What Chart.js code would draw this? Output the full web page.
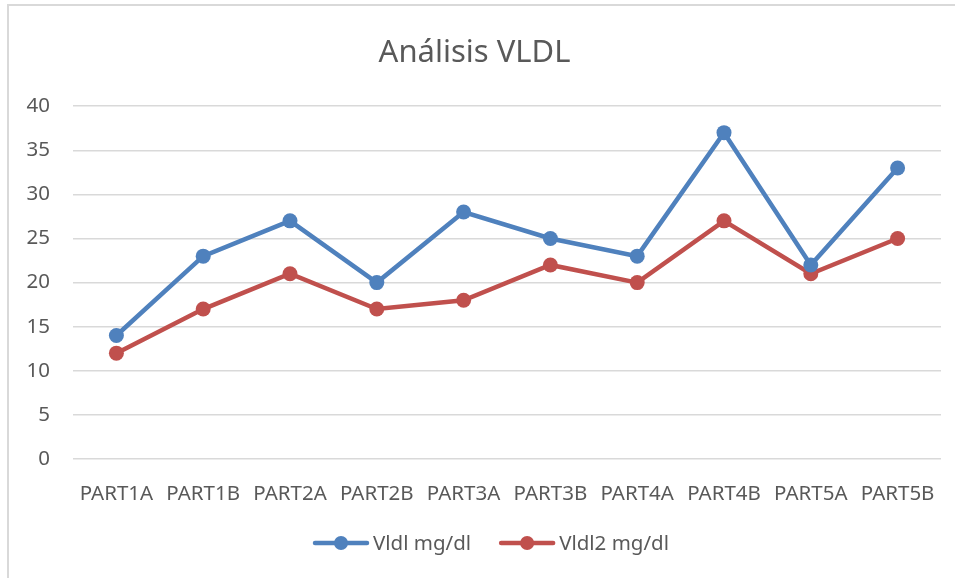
<!DOCTYPE html>
<html>
<head>
<meta charset="utf-8">
<script src="https://cdn.jsdelivr.net/npm/chart.js@4.4.1/dist/chart.umd.min.js"></script>
<style>
  html, body { margin:0; padding:0; background:#fff; }
  #wrap { position:relative; width:955px; height:578px; }
  #frame {
    position:absolute; left:7px; top:4px; right:-10px; bottom:-10px;
    border-left:2px solid #d9d9d9; border-top:2px solid #d9d9d9;
  }
  canvas { position:absolute; left:0; top:0; }
</style>
</head>
<body>
<div id="wrap">
  <div id="frame"></div>
  <canvas id="chart" width="955" height="578"></canvas>
</div>
<script>
// DATA
const categories = ['PART1A','PART1B','PART2A','PART2B','PART3A','PART3B','PART4A','PART4B','PART5A','PART5B'];
const vldl  = [14, 23, 27, 20, 28, 25, 23, 37, 22, 33];
const vldl2 = [12, 17, 21, 17, 18, 22, 20, 27, 21, 25];
const seriesNames = ['Vldl mg/dl', 'Vldl2 mg/dl'];

const FONT = '"Noto Sans", sans-serif';
const TEXT = '#595959';

// legend drawn as line + dot, like the office chart
const lineLegend = {
  id:'lineLegend',
  afterDraw(chart){
    const c = chart.ctx;
    const y = 543;
    const lineW = 56, gapText = 4, gapItem = 28;
    c.save();
    c.font = '20.5px ' + FONT;
    c.textBaseline = 'middle';
    const items = chart.data.datasets.map(ds => ({
      ds, w: lineW + gapText + c.measureText(ds.label).width
    }));
    const total = items.reduce((s,i)=>s+i.w,0) + gapItem*(items.length-1);
    let x = 491 - total/2;
    items.forEach(it => {
      c.strokeStyle = it.ds.borderColor;
      c.lineWidth = 4.5;
      c.lineCap = 'round';
      c.beginPath();
      c.moveTo(x+2, y);
      c.lineTo(x+lineW-2, y);
      c.stroke();
      c.fillStyle = it.ds.borderColor;
      c.beginPath();
      c.arc(x+lineW/2, y, 7, 0, Math.PI*2);
      c.fill();
      c.fillStyle = TEXT;
      c.fillText(it.ds.label, x+lineW+gapText, y+1);
      x += it.w + gapItem;
    });
    c.restore();
  }
};

new Chart(document.getElementById('chart'), {
  type:'line',
  data:{
    labels:categories,
    datasets:[
      {
        label:seriesNames[0],
        data:vldl,
        borderColor:'#4F81BD',
        backgroundColor:'#4F81BD',
        borderWidth:4.5,
        pointRadius:7.5,
        pointHoverRadius:7.5,
        pointBorderWidth:0,
        tension:0
      },
      {
        label:seriesNames[1],
        data:vldl2,
        borderColor:'#C0504D',
        backgroundColor:'#C0504D',
        borderWidth:4.5,
        pointRadius:7.5,
        pointHoverRadius:7.5,
        pointBorderWidth:0,
        tension:0
      }
    ]
  },
  options:{
    responsive:false,
    animation:false,
    layout:{ padding:{ left:8, right:14, top:0, bottom:69 } },
    plugins:{
      legend:{ display:false },
      tooltip:{ enabled:false },
      title:{
        display:true,
        text:'Análisis VLDL',
        color:TEXT,
        font:{ family:FONT, size:31, weight:'normal' },
        padding:{ top:35, bottom:34 }
      }
    },
    scales:{
      x:{
        offset:true,
        grid:{ display:false },
        border:{ display:false },
        ticks:{ color:TEXT, font:{ family:FONT, size:20.5 }, padding:15, maxRotation:0, autoSkip:false },
        afterFit(s){ s.height = 50; s.paddingLeft = 0; s.paddingRight = 0; }
      },
      y:{
        min:0, max:40,
        grid:{ color:'#d9d9d9', lineWidth:1.5, drawTicks:false },
        border:{ display:false },
        ticks:{ color:TEXT, font:{ family:FONT, size:20.5 }, stepSize:5, padding:23 },
        afterFit(s){ s.width = 65; }
      }
    }
  },
  plugins:[lineLegend]
});
</script>
</body>
</html>
